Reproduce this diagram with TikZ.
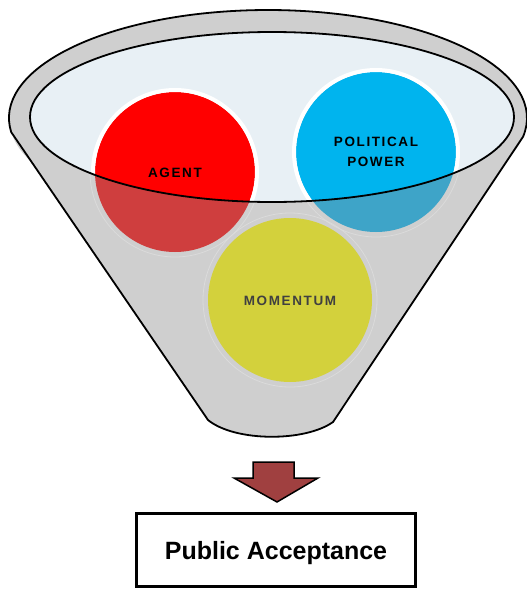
\documentclass[tikz,border=0pt]{standalone}
\usepackage{fontspec}
\setmainfont{Liberation Sans}
\newfontfamily\capsfont[LetterSpace=12]{Liberation Sans}

\definecolor{funnelgray}{RGB}{207,207,207}
\definecolor{mouthfill}{RGB}{232,240,245}
\definecolor{agentred}{RGB}{255,0,0}
\definecolor{agentlow}{RGB}{207,62,62}
\definecolor{powerblue}{RGB}{0,180,238}
\definecolor{powerlow}{RGB}{62,164,200}
\definecolor{momentumyellow}{RGB}{211,209,60}
\definecolor{ringgray}{RGB}{219,219,219}
\definecolor{arrowred}{RGB}{160,64,64}
\definecolor{labelgray}{RGB}{64,64,64}

\tikzset{
    outline/.style={draw=black, line width=1.8pt, line join=round},
    circlabel/.style={font=\capsfont\bfseries\fontsize{13.5}{20}\selectfont, align=center, inner sep=0pt},
}

\begin{document}
\begin{tikzpicture}[x=1pt,y=-1pt]
    \useasboundingbox (0,0) rectangle (527,589);

    % Define parameters
    \def\rball{80}
    \def\rmom{82}

    % Funnel body
    \fill[funnelgray] (268,118) ellipse [x radius=259, y radius=108];
    \fill[funnelgray] (12,132) -- (208,420) .. controls (235,442) and (305,442) .. (333,422) -- (523,137) -- cycle;
    \fill[mouthfill] (272,117) ellipse [x radius=242, y radius=85];

    % Balls, upper part
    \fill[agentred] (175,172) circle (\rball);
    \draw[white, line width=4pt] (175,172) circle (\rball+2);
    \fill[powerblue] (376,152) circle (\rball);
    \draw[white, line width=4pt] (376,152) circle (\rball+2);

    % Balls behind the front wall
    \begin{scope}
        \clip (30,117) arc [start angle=180, end angle=0, x radius=242, y radius=85]
            -- (527,117) -- (527,589) -- (0,589) -- (0,117) -- cycle;
        \fill[funnelgray] (12,132) -- (208,420) .. controls (235,442) and (305,442) .. (333,422) -- (523,137) -- cycle;
        \fill[agentlow] (175,172) circle (\rball);
        \draw[ringgray, line width=0.8pt] (175,172) circle (\rball+5);
        \fill[powerlow] (376,152) circle (\rball);
        \draw[ringgray, line width=0.8pt] (376,152) circle (\rball+5);
        \fill[momentumyellow] (290,300) circle (\rmom);
        \draw[ringgray, line width=0.8pt] (290,300) circle (\rmom+5);
    \end{scope}

    % Outlines
    \draw[outline] (272,117) ellipse [x radius=242, y radius=85];
    \draw[outline] (11.2,132.1) arc [start angle=172.5, end angle=370, x radius=259, y radius=108]
        -- (333,422) .. controls (305,442) and (235,442) .. (208,420) -- cycle;

    % Labels
    \node[circlabel] (agent) at (175,173) {AGENT};
    \node[circlabel] (power) at (376,152) {POLITICAL\\POWER};
    \node[circlabel, text=labelgray] (momentum) at (290,301) {MOMENTUM};

    % Arrow and result
    \draw[fill=arrowred, line width=1.5pt, line join=miter]
        (253,462) -- (294,462) -- (294,478) -- (318,478) -- (277,502) -- (234,478) -- (253,478) -- cycle;
    \node[draw, line width=3pt, minimum width=279, minimum height=73, text depth=0pt,
          font=\bfseries\fontsize{25}{28}\selectfont] (accept) at (276,550) {Public Acceptance};
\end{tikzpicture}
\end{document}
